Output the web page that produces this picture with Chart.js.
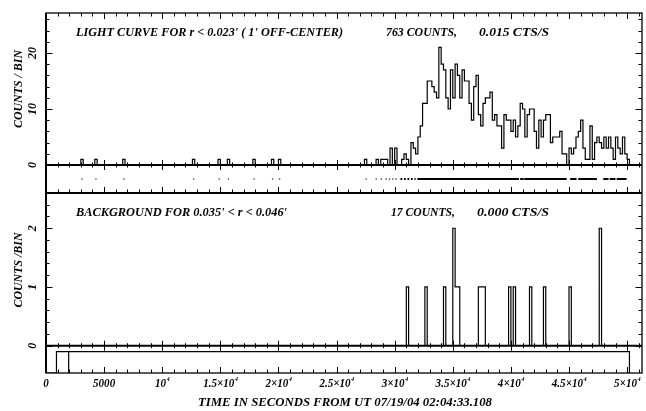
<!DOCTYPE html>
<html>
<head>
<meta charset="utf-8">
<title>Light curve</title>
<script src="https://cdn.jsdelivr.net/npm/chart.js@4.4.1/dist/chart.umd.min.js"></script>
<style>
  html, body { margin: 0; padding: 0; background: #fff; }
  canvas { display: block; }
</style>
</head>
<body>
<canvas id="lc" width="646" height="411"></canvas>
<script>
// Binning: 200 s bins, bin k covers [k*BIN, (k+1)*BIN)
const BIN = 200;
const lastBin = 250;

// source light curve: sparse single counts early on, then the flare
const lcEarlyBins = [15, 21, 33, 63, 74, 78, 89, 97, 100];
const lcStartBin = 130;
const lcCounts = [
  0, 0, 0, 0, 0, 0, 0, 1, 0, 0,      // 130-139
  0, 0, 1, 0, 1, 1, 1, 0, 3, 0,      // 140-149
  3, 0, 0, 1, 2, 1, 0, 4, 3, 2,      // 150-159
  5, 7, 11, 11, 15, 15, 14, 13, 12, 21, // 160-169
  18, 17, 12, 10, 17, 12, 18, 16, 12, 17, // 170-179
  15, 15, 11, 8, 14, 16, 9, 7, 11, 12,  // 180-189
  12, 13, 8, 9, 7, 7, 3, 9, 8, 8,       // 190-199
  6, 8, 5, 7, 11, 10, 5, 9, 10, 10,     // 200-209
  6, 3, 8, 5, 8, 9, 9, 4, 5, 5,         // 210-219
  5, 6, 2, 2, 0, 3, 2, 3, 5, 6,         // 220-229
  8, 3, 1, 1, 7, 1, 4, 5, 4, 3,         // 230-239
  5, 3, 5, 3, 1, 5, 3, 2, 5, 2,         // 240-249
  1                                     // 250
];

// background region
const bgBins = [155, 163, 171, 175, 176, 177, 186, 187, 188, 199, 201, 208, 214, 225, 238];
const bgCounts = [1, 1, 1, 2, 1, 1, 1, 1, 1, 1, 1, 1, 1, 1, 2];

// photon arrival times (strip under the light curve)
const evtTimes = [3100, 4300, 6700, 12700, 14900, 15700, 17900, 19500, 20100,
  27550, 28410, 28840, 29260, 29550, 29840, 30120];
const evtRunStart = [30500, 30800, 31100, 31400, 31700, 31950, 40800, 41150, 45100, 45800, 47950, 48500, 49100];
const evtRunEnd   = [30650, 30950, 31250, 31550, 31800, 40700, 41100, 44800, 45650, 47400, 48400, 49000, 49950];

// exposure strip under the background panel
const expoEdges = [0, 900, 1950, 50200];
const expoLevel = [0, 1, 1];

// axis labels
const xTickValues = [0, 5000, 10000, 15000, 20000, 25000, 30000, 35000, 40000, 45000, 50000];
const xTickLabels = ['0', '5000', '10^4', '1.5\u00d710^4', '2\u00d710^4', '2.5\u00d710^4', '3\u00d710^4',
  '3.5\u00d710^4', '4\u00d710^4', '4.5\u00d710^4', '5\u00d710^4'];
const lcTickValues = [0, 10, 20];
const bgTickValues = [0, 1, 2];

// build dataset points
function fullCounts() {
  return new Array(lastBin + 1).fill(0);
}
const lcAll = fullCounts();
lcEarlyBins.forEach(k => { lcAll[k] = 1; });
lcCounts.forEach((c, i) => { lcAll[lcStartBin + i] = c; });
const bgAll = fullCounts();
bgBins.forEach((k, i) => { bgAll[k] = bgCounts[i]; });

function histPoints(counts) {
  const pts = counts.map((c, k) => ({ x: k * BIN, y: c }));
  pts.push({ x: (lastBin + 1) * BIN, y: 0 });
  return pts;
}

const runPoints = [];
evtRunStart.forEach((s, i) => {
  runPoints.push({ x: s, y: 0.5 }, { x: evtRunEnd[i], y: 0.5 }, { x: evtRunEnd[i], y: null });
});

const expoPoints = [];
for (let i = 0; i < expoLevel.length; i++) {
  expoPoints.push({ x: expoEdges[i], y: 0 }, { x: expoEdges[i], y: expoLevel[i] },
    { x: expoEdges[i + 1], y: expoLevel[i] }, { x: expoEdges[i + 1], y: 0 });
}

// text helpers (condensed bold italic serif, like the plotting package)
const FONT = '"Liberation Serif", "DejaVu Serif", serif';

// horizontal text squeezed to run from x0 to x1
function fitText(ctx, s, x0, x1, yc, size) {
  ctx.save();
  ctx.font = `italic bold ${size}px ${FONT}`;
  const sx = (x1 - x0) / ctx.measureText(s).width;
  ctx.translate(x0, yc);
  ctx.scale(sx, 1);
  ctx.textAlign = 'left';
  ctx.textBaseline = 'middle';
  ctx.fillStyle = '#000';
  ctx.fillText(s, 0, 0);
  ctx.restore();
}

// vertical text reading upwards from yBottom to yTop, centred on xc
function fitTextUp(ctx, s, yBottom, yTop, xc, size) {
  ctx.save();
  ctx.font = `italic bold ${size}px ${FONT}`;
  const sx = (yBottom - yTop) / ctx.measureText(s).width;
  ctx.translate(xc, yBottom);
  ctx.rotate(-Math.PI / 2);
  ctx.scale(sx, 1);
  ctx.textAlign = 'left';
  ctx.textBaseline = 'middle';
  ctx.fillStyle = '#000';
  ctx.fillText(s, 0, 0);
  ctx.restore();
}

function supLabel(ctx, s, xc, yc, size, sx) {
  const parts = s.split('^');
  ctx.save();
  ctx.font = `italic bold ${size}px ${FONT}`;
  const wBase = ctx.measureText(parts[0]).width;
  let wSup = 0;
  const supSize = Math.round(size * 0.62);
  if (parts[1]) {
    ctx.font = `italic bold ${supSize}px ${FONT}`;
    wSup = ctx.measureText(parts[1]).width;
  }
  ctx.translate(xc, yc);
  ctx.scale(sx, 1);
  const left = -(wBase + wSup) / 2;
  ctx.textAlign = 'left';
  ctx.textBaseline = 'middle';
  ctx.fillStyle = '#000';
  ctx.font = `italic bold ${size}px ${FONT}`;
  ctx.fillText(parts[0], left, 0);
  if (parts[1]) {
    ctx.font = `italic bold ${supSize}px ${FONT}`;
    ctx.fillText(parts[1], left + wBase + 0.5, -4);
  }
  ctx.restore();
}

function rotLabel(ctx, s, xc, yc, size) {
  ctx.save();
  ctx.font = `italic bold ${size}px ${FONT}`;
  ctx.translate(xc, yc);
  ctx.rotate(-Math.PI / 2);
  ctx.textAlign = 'center';
  ctx.textBaseline = 'middle';
  ctx.fillStyle = '#000';
  ctx.fillText(s, 0, 0);
  ctx.restore();
}

// frame, tick marks and all the lettering
const framePlugin = {
  id: 'frame',
  afterDatasetsDraw(chart) {
    const ctx = chart.ctx;
    const { left, right, top, bottom } = chart.chartArea;
    const sx = chart.scales.x, sLc = chart.scales.yLc, sEv = chart.scales.yEvt,
      sBg = chart.scales.yBg;
    const yLc0 = sLc.getPixelForValue(0);
    const yEvB = sEv.bottom;
    const yBg0 = sBg.getPixelForValue(0);

    ctx.save();
    ctx.strokeStyle = '#000';
    ctx.lineWidth = 1.3;
    ctx.strokeRect(left, top, right - left, bottom - top);
    ctx.lineWidth = 2;
    [yLc0, yEvB, yBg0].forEach(y => {
      ctx.beginPath(); ctx.moveTo(left, y); ctx.lineTo(right, y); ctx.stroke();
    });
    ctx.beginPath(); ctx.moveTo(left, top); ctx.lineTo(left, bottom); ctx.stroke();

    // x ticks: minor every 1000 s, major every 5000 s
    ctx.lineWidth = 1;
    ctx.beginPath();
    for (let v = 0; v <= sx.max; v += 1000) {
      const x = Math.round(sx.getPixelForValue(v)) + 0.5;
      const major = v % 5000 === 0;
      const L = major ? 6 : 3.5;
      const h = major ? 5 : 2.5;
      ctx.moveTo(x, top); ctx.lineTo(x, top + L);
      ctx.moveTo(x, yLc0 - h); ctx.lineTo(x, yLc0 + h);
      ctx.moveTo(x, yEvB); ctx.lineTo(x, yEvB - L);
      ctx.moveTo(x, yBg0 - h); ctx.lineTo(x, yBg0 + h);
      ctx.moveTo(x, bottom); ctx.lineTo(x, bottom - L);
    }
    // y ticks, both sides
    const yTicks = (scale, step, majorEvery, maxV) => {
      for (let i = 0; i * step <= maxV + 1e-9; i++) {
        const y = Math.round(scale.getPixelForValue(i * step)) + 0.5;
        const L = i % majorEvery === 0 ? 6.5 : 3.5;
        ctx.moveTo(left, y); ctx.lineTo(left + L, y);
        ctx.moveTo(right, y); ctx.lineTo(right - L, y);
      }
    };
    yTicks(sLc, 2, 5, sLc.max);
    yTicks(sBg, 0.2, 5, sBg.max);
    ctx.stroke();
    ctx.restore();
  },
  afterDraw(chart) {
    const ctx = chart.ctx;
    const sx = chart.scales.x, sLc = chart.scales.yLc, sBg = chart.scales.yBg;

    fitText(ctx, "LIGHT CURVE FOR r < 0.023' ( 1' OFF-CENTER)", 76, 343, 32.5, 12);
    fitText(ctx, '763 COUNTS,', 386, 457, 32.5, 12);
    fitText(ctx, '0.015 CTS/S', 479, 549, 32.5, 12);
    fitText(ctx, "BACKGROUND FOR 0.035' < r < 0.046'", 76, 287, 213.3, 12);
    fitText(ctx, '17 COUNTS,', 391, 455, 213.3, 12);
    fitText(ctx, '0.000 CTS/S', 477, 549, 213.3, 12);
    fitText(ctx, 'TIME IN SECONDS FROM UT 07/19/04 02:04:33.108', 198, 492, 403, 12);

    fitTextUp(ctx, 'COUNTS / BIN', 128, 50, 19, 12);
    fitTextUp(ctx, 'COUNTS /BIN', 307.5, 232.5, 19, 12);

    xTickValues.forEach((v, i) => {
      supLabel(ctx, xTickLabels[i], sx.getPixelForValue(v), 383.5, 12, 0.92);
    });
    lcTickValues.forEach(v => rotLabel(ctx, String(v), 32.5, sLc.getPixelForValue(v), 12));
    bgTickValues.forEach(v => rotLabel(ctx, String(v), 32.5, sBg.getPixelForValue(v), 12));
  }
};

const hidden = {
  grid: { display: false },
  border: { display: false },
  ticks: { display: false }
};

new Chart(document.getElementById('lc'), {
  type: 'line',
  data: {
    datasets: [
      { data: histPoints(lcAll), yAxisID: 'yLc', stepped: 'before', borderColor: '#000',
        borderWidth: 1.2, pointRadius: 0, fill: false },
      { data: evtTimes.map(t => ({ x: t, y: 0.5 })), yAxisID: 'yEvt', showLine: false,
        pointRadius: 0.8, pointBorderWidth: 0, pointBackgroundColor: '#333' },
      { data: runPoints, yAxisID: 'yEvt', borderColor: '#000', borderWidth: 2,
        pointRadius: 0, spanGaps: false, fill: false },
      { data: histPoints(bgAll), yAxisID: 'yBg', stepped: 'before', borderColor: '#000',
        borderWidth: 1.2, pointRadius: 0, fill: false },
      { data: expoPoints, yAxisID: 'yExp', borderColor: '#000', borderWidth: 1.2,
        pointRadius: 0, fill: false }
    ]
  },
  options: {
    responsive: false,
    animation: false,
    devicePixelRatio: 1,
    layout: { padding: { top: 13, right: 1, left: 0, bottom: 0 } },
    plugins: { legend: { display: false }, tooltip: { enabled: false } },
    elements: { line: { tension: 0 } },
    scales: {
      x: { type: 'linear', min: 0, max: 51280, ...hidden, afterFit: s => { s.height = 38; } },
      yExp: { type: 'linear', position: 'left', stack: 'panels', stackWeight: 27.3, weight: 1,
        min: 0, max: 1.28, ...hidden, afterFit: s => { s.width = 46; } },
      yBg: { type: 'linear', position: 'left', stack: 'panels', stackWeight: 152.7, weight: 2,
        min: 0, max: 2.6, ...hidden, afterFit: s => { s.width = 46; } },
      yEvt: { type: 'linear', position: 'left', stack: 'panels', stackWeight: 28, weight: 3,
        min: 0, max: 1, ...hidden, afterFit: s => { s.width = 46; } },
      yLc: { type: 'linear', position: 'left', stack: 'panels', stackWeight: 152, weight: 4,
        min: 0, max: 27.14, ...hidden, afterFit: s => { s.width = 46; } }
    }
  },
  plugins: [framePlugin]
});
</script>
</body>
</html>
